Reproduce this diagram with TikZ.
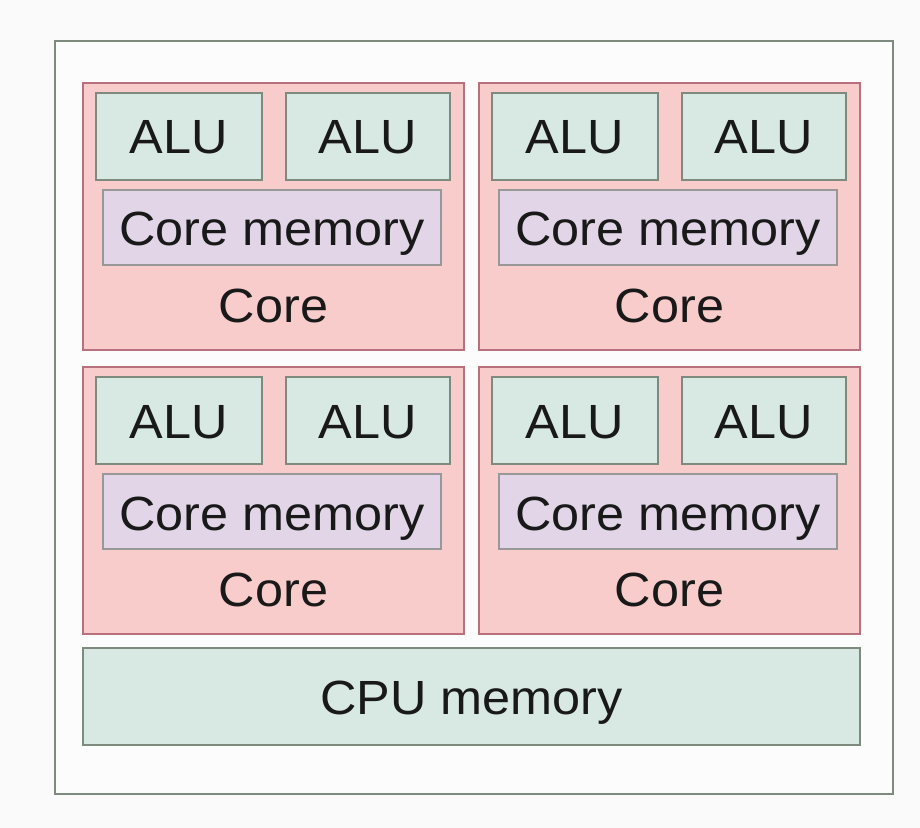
\documentclass[tikz,border=0pt]{standalone}
\usepackage{fontspec}
\setmainfont[FakeStretch=1.05]{Liberation Sans}
\definecolor{cpugray}{HTML}{7F8A7F}
\definecolor{corered}{HTML}{B8707C}
\definecolor{corefill}{HTML}{F9CCCC}
\definecolor{alufill}{HTML}{D8E8E3}
\definecolor{memfill}{HTML}{E1D5E7}
\definecolor{memgray}{HTML}{989898}
\tikzset{
  corebox/.style={draw=corered,fill=corefill,line width=1pt},
  alubox/.style={draw=cpugray,fill=alufill,line width=0.75pt},
  membox/.style={draw=memgray,fill=memfill,line width=0.75pt},
  lbl/.style={font=\fontsize{24}{28}\selectfont,text=black!90,inner sep=0pt,text height=17pt,text depth=0pt}
}

\begin{document}
\begin{tikzpicture}[x=0.5pt,y=-0.5pt]
    \fill[white!98!black] (0,0) rectangle (920,828);
    \useasboundingbox (0,0) rectangle (920,828);
    \draw[draw=cpugray,fill=white!99!black,line width=1pt] (55,41) rectangle (893,794);
    % four cores
    \foreach \cx/\cy/\i in {83/83/1, 479/83/2, 83/367/3, 479/367/4} {
      \draw[corebox] (\cx,\cy) rectangle +(381,267);
      \draw[alubox] (\cx+13,\cy+10) rectangle +(166,87);
      \draw[alubox] (\cx+203,\cy+10) rectangle +(164,87);
      \draw[membox] (\cx+20,\cy+107) rectangle +(338,75);
      \node[lbl] (alu\i a) at (\cx+96,\cy+54) {ALU};
      \node[lbl] (alu\i b) at (\cx+285,\cy+54) {ALU};
      \node[lbl] (mem\i) at (\cx+189,\cy+146) {Core memory};
      \node[lbl] (core\i) at (\cx+190.5,\cy+222) {Core};
    }
    \draw[alubox] (83,648) rectangle (860,745);
    \node[lbl] (cpumem) at (471.5,697) {CPU memory};
  \end{tikzpicture}
\end{document}
